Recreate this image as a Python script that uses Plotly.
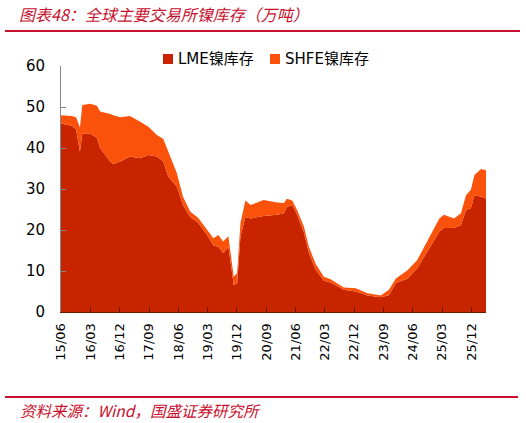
import plotly.graph_objects as go

dates = ["2015-06-01","2015-09-10","2015-10-20","2015-11-25","2015-12-17","2016-03-01","2016-05-01",
         "2016-06-01","2016-09-03","2016-10-01","2016-12-06","2017-03-06","2017-06-10","2017-08-25",
         "2017-11-13","2018-01-12","2018-02-28","2018-05-18","2018-07-15","2018-09-20","2018-12-05",
         "2019-02-25","2019-04-25","2019-06-10","2019-07-25","2019-09-12","2019-10-15","2019-11-01",
         "2019-12-03","2020-01-03","2020-02-18","2020-04-06","2020-08-06","2020-12-12","2021-02-12",
         "2021-03-12","2021-05-01","2021-06-15","2021-08-18","2021-10-03","2021-12-06","2022-02-20",
         "2022-04-24","2022-08-25","2022-12-15","2023-04-03","2023-08-06","2023-10-21","2023-12-25",
         "2024-04-12","2024-07-12","2024-11-01","2025-02-03","2025-03-18","2025-06-20","2025-08-24",
         "2025-10-10","2025-11-25","2025-12-28","2026-03-01","2026-04-15"]
lme = [46.0,45.4,44.5,39.1,43.5,43.5,42.5,40.0,36.7,36.1,36.7,37.9,37.5,38.3,37.9,36.7,33.0,30.6,26.1,
       23.2,21.7,18.8,16.3,15.9,14.4,15.9,9.8,6.6,7.0,18.4,23.2,22.8,23.4,23.7,24.1,25.7,26.1,23.7,19.3,
       14.4,10.3,7.6,7.2,5.4,5.0,4.0,3.6,4.1,7.0,8.2,10.7,15.5,19.6,20.5,20.5,21.2,24.9,25.3,28.5,28.1,27.7]
shfe = [2.0,2.4,3.0,5.9,7.0,7.3,7.8,8.9,11.6,11.9,10.8,9.9,8.9,6.9,5.3,5.5,6.1,3.3,2.0,1.3,1.2,1.2,1.7,
        2.9,2.8,2.6,1.2,2.0,2.5,3.3,4.0,3.3,3.9,3.0,2.5,1.9,1.1,1.2,1.5,1.5,1.4,1.0,0.8,0.6,0.8,0.6,0.4,
        1.3,1.2,2.0,2.0,2.5,3.2,3.2,2.3,2.9,3.6,4.5,4.9,6.8,6.9]
names = ["LME镍库存", "SHFE镍库存"]
colors = ["#C82400", "#FA520A"]
title = "图表48：全球主要交易所镍库存（万吨）"
source = "资料来源：Wind，国盛证券研究所"

fig = go.Figure()
for nm, vals, c in zip(names, [lme, shfe], colors):
    fig.add_trace(go.Scatter(x=dates, y=vals, name=nm, mode="lines", stackgroup="one",
                             line=dict(width=0, color=c), fillcolor=c, showlegend=False))

W, H = 425, 246   # plot area size in px
L, T = 61, 66     # plot area origin


def px(xp):
    return (xp - L) / W


def py(yp):
    return (T + H - yp) / H


red = "#C8102E"
shapes = [
    dict(type="line", xref="paper", yref="paper", x0=px(5), x1=px(520),
         y0=py(31), y1=py(31), line=dict(color=red, width=2)),
    dict(type="line", xref="paper", yref="paper", x0=px(5), x1=px(518),
         y0=py(397), y1=py(397), line=dict(color=red, width=2)),
]
annotations = [
    dict(text="<i>" + title + "</i>", xref="paper", yref="paper", x=px(17), xanchor="left",
         y=py(14), yanchor="middle", showarrow=False,
         font=dict(family="Noto Sans CJK SC", size=16, color=red)),
    dict(text="<i>" + source + "</i>", xref="paper", yref="paper", x=px(18), xanchor="left",
         y=py(410), yanchor="middle", showarrow=False,
         font=dict(family="Noto Sans CJK SC", size=15.5, color=red)),
]
# legend: small squares + labels
leg_x = [163, 270]
for nm, c, lx in zip(names, colors, leg_x):
    shapes.append(dict(type="rect", xref="paper", yref="paper", x0=px(lx), x1=px(lx + 10),
                       y0=py(64), y1=py(54), fillcolor=c, line=dict(width=0)))
    annotations.append(dict(text=nm, xref="paper", yref="paper", x=px(lx + 13), xanchor="left",
                            y=py(59), yanchor="middle", showarrow=False,
                            font=dict(family="DejaVu Sans, Noto Sans CJK SC", size=15, color="#000")))

fig.update_layout(
    width=526, height=423, margin=dict(l=61, r=40, t=66, b=111),
    paper_bgcolor="white", plot_bgcolor="white",
    font=dict(family="DejaVu Sans, Noto Sans CJK SC", size=14, color="#000"),
    showlegend=False,
    xaxis=dict(type="date", range=["2015-06-01", "2026-04-15"], tick0="2015-06-01", dtick="M9",
               tickformat="%y/%m", tickangle=-90, ticks="inside", ticklen=5, tickcolor="#6b1a00",
               showline=True, linecolor="#6b1a00", linewidth=1, showgrid=False, zeroline=False,
               tickfont=dict(size=13), ticklabelstandoff=5),
    yaxis=dict(range=[0, 60], dtick=10, ticks="inside", ticklen=5, tickcolor="#888",
               showline=True, linecolor="#888", linewidth=1, showgrid=False, zeroline=False,
               tickfont=dict(size=15), ticklabelstandoff=12),
    shapes=shapes,
    annotations=annotations,
)
fig.write_html("out.html")
